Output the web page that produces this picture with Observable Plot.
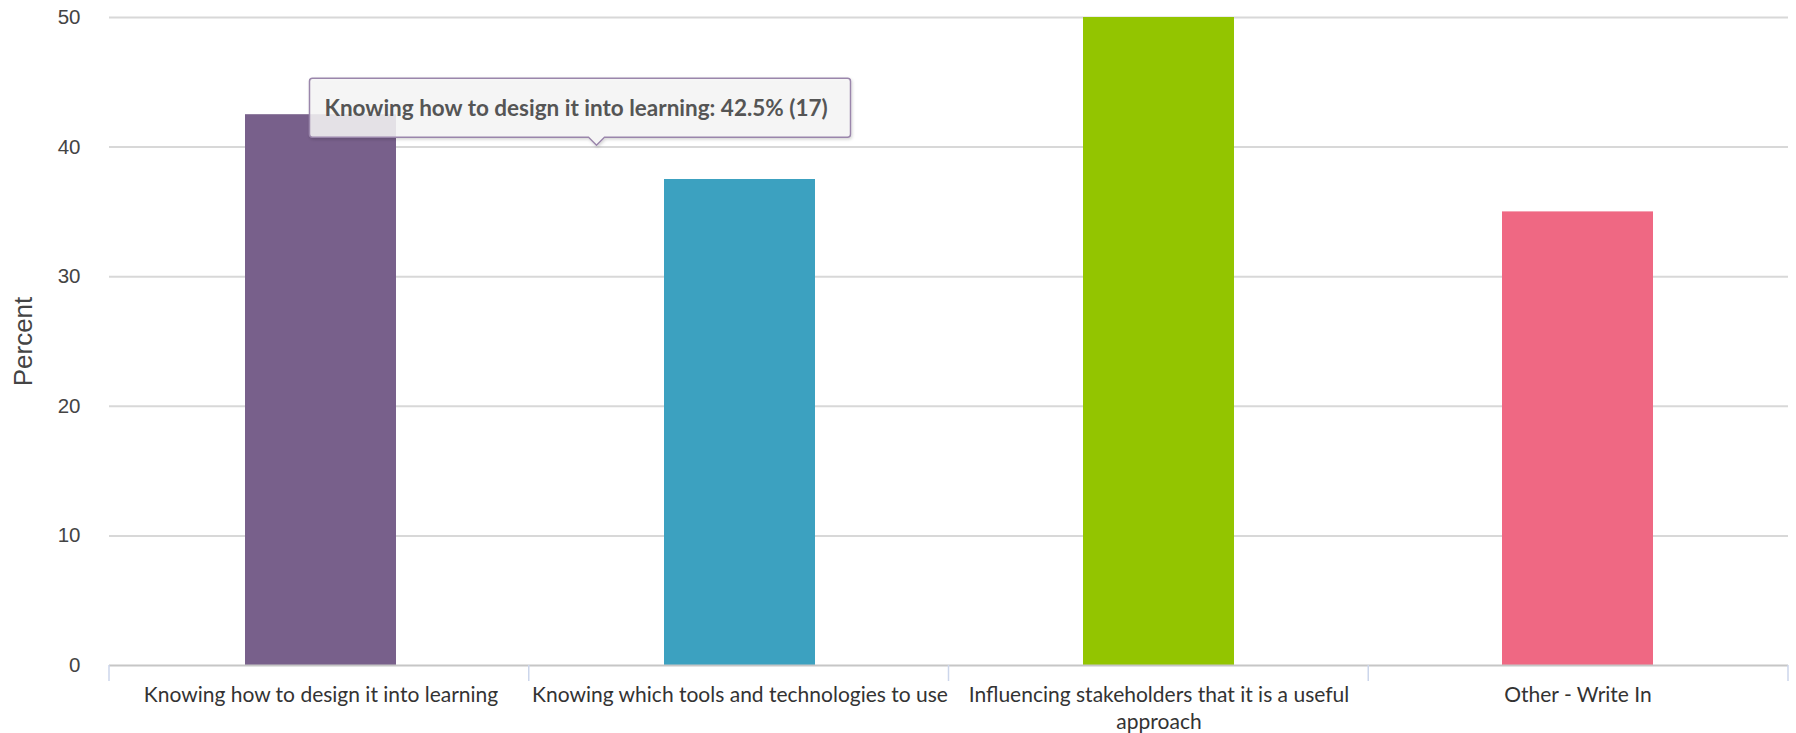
<!DOCTYPE html>
<html>
<head>
<meta charset="utf-8">
<script src="https://cdn.jsdelivr.net/npm/d3@7"></script>
<script src="https://cdn.jsdelivr.net/npm/@observablehq/plot@0.6"></script>
<style>
  html, body { margin: 0; padding: 0; background: #ffffff; }
  #chart svg { display: block; }
</style>
</head>
<body>
<div id="chart"></div>
<script>
// ---- data ----
const categories = [
  "Knowing how to design it into learning",
  "Knowing which tools and technologies to use",
  "Influencing stakeholders that it is a useful approach",
  "Other - Write In"
];
const categoryLabels = [
  "Knowing how to design it into learning",
  "Knowing which tools and technologies to use",
  "Influencing stakeholders that it is a useful\napproach",
  "Other - Write In"
];
const percents = [42.5, 37.5, 50, 35];
const counts = [17, 15, 20, 14];
const barColors = ["#78608b", "#3ca1c0", "#93c500", "#ef6883"];
const yTicks = [0, 10, 20, 30, 40, 50];
const tooltipIndex = 0;

const data = categories.map((c, i) => ({
  category: c, label: categoryLabels[i], percent: percents[i], count: counts[i]
}));

const W = 1796, H = 733;
const margins = {left: 109, right: 8, top: 17, bottom: 68};

// category boundary ticks under the baseline
function boundaryTicks(index, scales, values, dims) {
  const g = d3.create("svg:g");
  const n = categories.length;
  const fw = dims.width - dims.marginLeft - dims.marginRight;
  const y0 = dims.height - dims.marginBottom;
  for (let i = 0; i <= n; i++) {
    const xb = dims.marginLeft + i * fw / n;
    g.append("line")
      .attr("x1", xb).attr("x2", xb)
      .attr("y1", y0).attr("y2", y0 + 16)
      .attr("stroke", "#ccd6eb").attr("stroke-width", 1.5);
  }
  return g.node();
}

// tooltip for the hovered bar
function tooltip(index, scales, values, dims) {
  const d = data[tooltipIndex];
  const x = scales.x;
  const bw = typeof x.bandwidth === "function" ? x.bandwidth() : (x.bandwidth ?? 0);
  const ax = x(d.category) + bw / 2;
  const ay = scales.y(d.percent);
  const left = ax - 11, top = ay - 36, w = 541, h = 59;
  const px = ax + 276, pBase = 8, pLen = 8;
  const g = d3.create("svg:g");
  const defs = g.append("defs");
  const f = defs.append("filter").attr("id", "tipShadow")
    .attr("x", "-5%").attr("y", "-20%").attr("width", "110%").attr("height", "150%");
  f.append("feDropShadow").attr("dx", 1).attr("dy", 1.5).attr("stdDeviation", 1.5)
    .attr("flood-color", "#000").attr("flood-opacity", 0.18);
  const r = 3;
  const path = [
    `M${left + r},${top}`,
    `H${left + w - r}`, `Q${left + w},${top} ${left + w},${top + r}`,
    `V${top + h - r}`, `Q${left + w},${top + h} ${left + w - r},${top + h}`,
    `H${px + pBase}`, `L${px},${top + h + pLen}`, `L${px - pBase},${top + h}`,
    `H${left + r}`, `Q${left},${top + h} ${left},${top + h - r}`,
    `V${top + r}`, `Q${left},${top} ${left + r},${top}`, "Z"
  ].join(" ");
  g.append("path").attr("d", path)
    .attr("fill", "#f7f7f7").attr("fill-opacity", 0.85)
    .attr("stroke", "#9a86ab").attr("stroke-width", 1.5)
    .attr("filter", "url(#tipShadow)");
  g.append("text")
    .attr("x", left + 15).attr("y", top + h / 2)
    .attr("dy", "0.35em")
    .attr("text-anchor", "start")
    .attr("font-family", "Lato, 'Open Sans', sans-serif")
    .attr("font-weight", "bold")
    .attr("font-size", 22.5)
    .attr("fill", "#555555")
    .text(`${d.category}: ${d.percent}% (${d.count})`);
  return g.node();
}

const chart = Plot.plot({
  width: W,
  height: H,
  marginLeft: margins.left,
  marginRight: margins.right,
  marginTop: margins.top,
  marginBottom: margins.bottom,
  style: {background: "#ffffff", overflow: "visible"},
  x: {domain: categories, paddingInner: 0.64, paddingOuter: 0.32, axis: null},
  y: {domain: [0, 50], ticks: yTicks},
  color: {domain: categories, range: barColors},
  marks: [
    Plot.gridY(yTicks.filter(t => t > 0), {stroke: "#d8d8d8", strokeOpacity: 1, strokeWidth: 2}),
    Plot.barY(data, {x: "category", y: "percent", fill: "category"}),
    Plot.ruleY([0], {stroke: "#c6c6c6", strokeWidth: 2}),
    boundaryTicks,
    Plot.axisY(yTicks, {
      tickSize: 0, tickPadding: 29, fontSize: 20.5, fill: "#444444",
      fontFamily: "'Liberation Sans', Arial, sans-serif",
      label: null
    }),
    Plot.text(["Percent"], {
      frameAnchor: "left", rotate: -90, dx: -86, textAnchor: "middle",
      fontSize: 26, fill: "#444444",
      fontFamily: "'Liberation Sans', Arial, sans-serif"
    }),
    Plot.text(data, {
      x: "category", frameAnchor: "bottom", text: "label",
      lineAnchor: "top", dy: 17, lineHeight: 1.3,
      fontSize: 21, fill: "#333333",
      fontFamily: "Lato, 'Open Sans', sans-serif"
    }),
    tooltip
  ]
});

document.getElementById("chart").appendChild(chart);
</script>
</body>
</html>
